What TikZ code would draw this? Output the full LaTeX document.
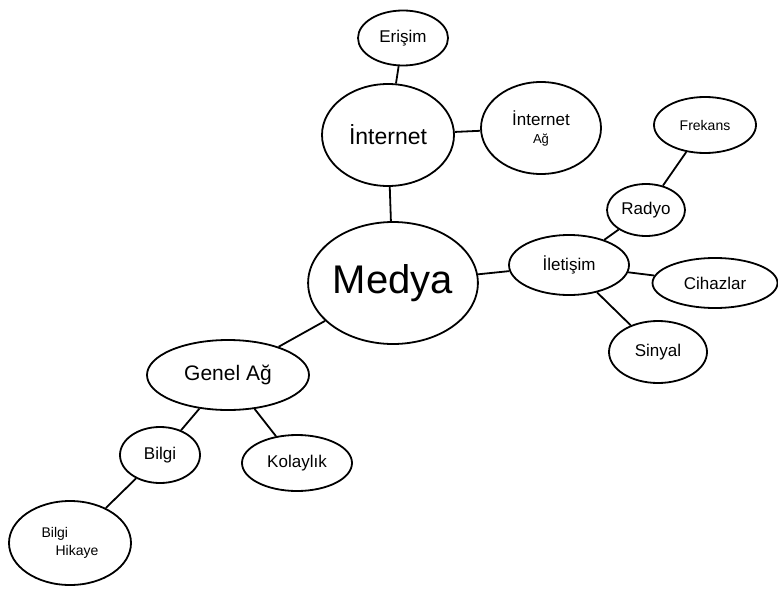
\documentclass[tikz,border=0pt]{standalone}
\usepackage{fontspec}
\setmainfont{Liberation Sans}
\usetikzlibrary{shapes.geometric}
\begin{document}
\begin{tikzpicture}[x=1pt,y=-1pt,
  bub/.style={ellipse,draw,line width=1.8pt,inner sep=0pt,font=\fontsize{17}{19}\selectfont},
  link/.style={line width=1.8pt}]
\useasboundingbox (0,0) rectangle (778,591);
\node[bub,minimum width=90,minimum height=55] (eri) at (403,38) {Erişim};
\node[bub,minimum width=132,minimum height=102,font=\fontsize{23}{25}\selectfont] (int) at (388,135) {İnternet};
\node[bub,minimum width=120,minimum height=92,align=center] (inta) at (541,128) {İnternet\\[-1pt]{\fontsize{13}{15}\selectfont Ağ}};
\node[bub,minimum width=168,minimum height=122,font=\fontsize{40}{42}\selectfont] (med) at (393,283) {Medya};
\node[bub,minimum width=120,minimum height=60] (ile) at (569,265) {İletişim};
\node[bub,minimum width=78,minimum height=52] (rad) at (646,210) {Radyo};
\node[bub,minimum width=102,minimum height=56,font=\fontsize{14}{16}\selectfont] (fre) at (705,125) {Frekans};
\node[bub,minimum width=125,minimum height=50] (cih) at (715,283) {Cihazlar};
\node[bub,minimum width=98,minimum height=62] (sin) at (658,352) {Sinyal};
\node[bub,minimum width=162,minimum height=70,font=\fontsize{21}{23}\selectfont] (gen) at (228,375) {Genel Ağ};
\node[bub,minimum width=80,minimum height=56] (bil) at (160,455) {Bilgi};
\node[bub,minimum width=110,minimum height=56] (kol) at (297,463) {Kolaylık};
\node[bub,minimum width=122,minimum height=84,align=left,font=\fontsize{14}{18}\selectfont] (bih) at (70,543) {Bilgi\\\hspace*{14pt}Hikaye};
\draw[link] (eri) -- (int);
\draw[link] (int) -- (inta);
\draw[link] (int) -- (med);
\draw[link] (med) -- (ile);
\draw[link] (ile) -- (rad);
\draw[link] (rad) -- (fre);
\draw[link] (ile) -- (cih);
\draw[link] (ile) -- (sin);
\draw[link] (med) -- (gen);
\draw[link] (gen) -- (bil);
\draw[link] (gen) -- (kol);
\draw[link] (bil) -- (bih);
\end{tikzpicture}
\end{document}
